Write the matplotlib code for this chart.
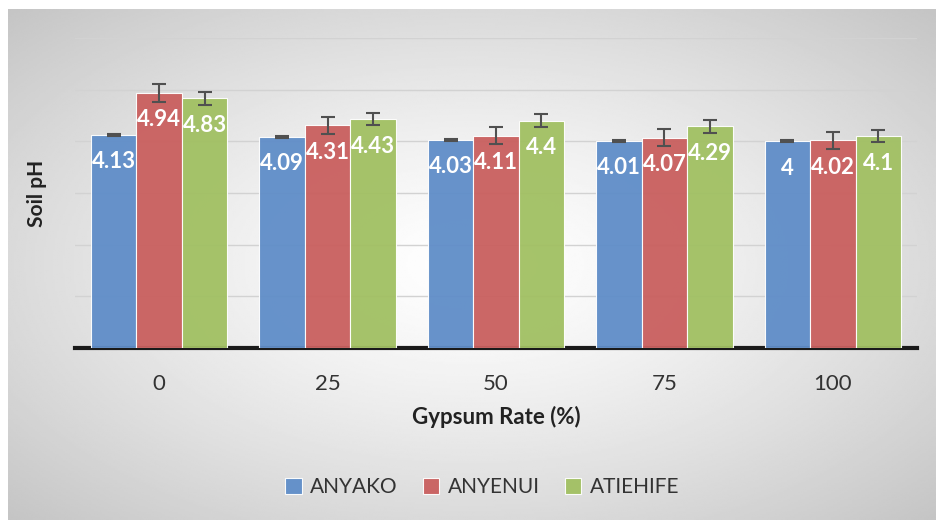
import numpy as np
import matplotlib.pyplot as plt

plt.rcParams['font.family'] = ['Lato', 'DejaVu Sans']

rates = ['0', '25', '50', '75', '100']
series = ['ANYAKO', 'ANYENUI', 'ATIEHIFE']
anyako = [4.13, 4.09, 4.03, 4.01, 4.00]
anyenui = [4.94, 4.31, 4.11, 4.07, 4.02]
atiehife = [4.83, 4.43, 4.40, 4.29, 4.10]
anyako_err = [0.02, 0.02, 0.02, 0.02, 0.02]
anyenui_err = [0.17, 0.17, 0.17, 0.16, 0.17]
atiehife_err = [0.12, 0.12, 0.12, 0.12, 0.12]
labels = [['4.13', '4.09', '4.03', '4.01', '4'],
          ['4.94', '4.31', '4.11', '4.07', '4.02'],
          ['4.83', '4.43', '4.4', '4.29', '4.1']]
colors = ['#5f8dc8', '#c95f5e', '#a1c062']

fig = plt.figure(figsize=(9.36, 5.2), dpi=100)

# radial gradient background
bg = fig.add_axes([8/936, 0, 1 - 8/936, 1 - 9/520], zorder=-10)
yy, xx = np.mgrid[-1:1:300j, -1:1:500j]
r = np.sqrt(xx**2 + yy**2) / np.sqrt(2)
bg.imshow(1 - 0.23 * r**1.3, cmap='gray', vmin=0, vmax=1, aspect='auto',
          extent=[0, 1, 0, 1])
bg.axis('off')

ax = fig.add_axes([75/936, 1 - 348/520, 842/936, 310/520])
ax.patch.set_alpha(0)

x = np.arange(len(rates))
w = 0.27
vals = [anyako, anyenui, atiehife]
errs = [anyako_err, anyenui_err, atiehife_err]
for i in range(3):
    pos = x + (i - 1) * w
    bars = ax.bar(pos, vals[i], w, color=colors[i], edgecolor='#ffffff',
                  linewidth=0.8, alpha=0.95, label=series[i], zorder=3)
    ax.errorbar(pos, vals[i], yerr=errs[i], fmt='none', ecolor='#505050',
                elinewidth=1.5, capsize=5, capthick=1.5, zorder=4)
    for b, t in zip(bars, labels[i]):
        ax.annotate(t, (b.get_x() + b.get_width() / 2, b.get_height()),
                    xytext=(0, -19.5), textcoords='offset points',
                    ha='center', va='center', color='white',
                    fontsize=16, fontweight='bold', zorder=5)

ax.set_ylim(0, 6)
ax.set_xlim(-0.5, 4.5)
ax.set_yticks(np.arange(1, 7))
ax.set_yticklabels([])
ax.yaxis.grid(True, color='#d2d2d2', linewidth=1)
ax.set_axisbelow(True)
ax.tick_params(axis='both', length=0)
ax.set_xticks(x)
ax.set_xticklabels(rates, fontsize=16, color='#333333')
ax.tick_params(axis='x', pad=19)
for s in ['top', 'right', 'left']:
    ax.spines[s].set_visible(False)
ax.spines['bottom'].set_color('#1a1a1a')
ax.spines['bottom'].set_linewidth(3)

ax.set_xlabel('Gypsum Rate (%)', fontsize=16, fontweight='bold',
              color='#222222', labelpad=8)
ax.set_ylabel('Soil pH', fontsize=15, fontweight='bold', color='#222222',
              labelpad=17)

fig.legend(loc='center', bbox_to_anchor=(0.515, 1 - 487/520),
           ncol=3, frameon=False, fontsize=15, handlelength=0.8,
           handleheight=0.8, columnspacing=1.2, handletextpad=0.4,
           labelcolor='#333333')

fig.savefig('out.png', dpi=100)
